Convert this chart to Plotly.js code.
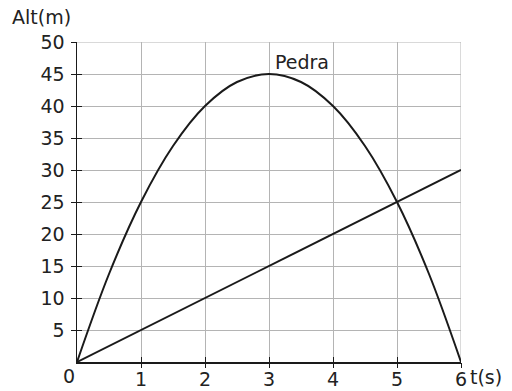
<!DOCTYPE html>
<html><head><meta charset="utf-8">
<script src="https://cdn.plot.ly/plotly-3.0.1.min.js"></script>
<style>html,body{margin:0;padding:0;background:#fff}#c{width:512px;height:391px}</style>
</head><body><div id="c"></div>
<script>
// Data
var tStone = [0, 0.5, 1, 1.5, 2, 2.5, 3, 3.5, 4, 4.5, 5, 5.5, 6];
var hStone = [0, 13.75, 25, 33.75, 40, 43.75, 45, 43.75, 40, 33.75, 25, 13.75, 0];
var tLine = [0, 6];
var hLine = [0, 30];
var xTicks = [1, 2, 3, 4, 5, 6];
var yTicks = [5, 10, 15, 20, 25, 30, 35, 40, 45, 50];
var stoneLabel = "Pedra";
var yTitle = "Alt(m)";
var xTitle = "t(s)";
var originLabel = "0";

var font = {family: "DejaVu Sans, sans-serif", size: 19, color: "#222"};

var traces = [
  {x: tStone, y: hStone, mode: "lines", line: {color: "#1a1a1a", width: 2, shape: "spline", smoothing: 1}, hoverinfo: "skip", xaxis: "x", yaxis: "y"},
  {x: tLine, y: hLine, mode: "lines", line: {color: "#1a1a1a", width: 2}, hoverinfo: "skip", xaxis: "x2", yaxis: "y2"}
];

var axCommon = {
  showgrid: true, gridcolor: "#b4b4b4", gridwidth: 1,
  zeroline: false, showline: false, ticklen: 5, tickwidth: 1, tickcolor: "#1a1a1a",
  tickfont: {family: font.family, size: font.size, color: font.color}, fixedrange: true
};

var layout = {
  width: 512, height: 391,
  margin: {l: 77, r: 51, t: 42, b: 29, pad: 0},
  paper_bgcolor: "#fff", plot_bgcolor: "#fff",
  showlegend: false,
  font: {family: font.family, size: font.size, color: font.color},
  xaxis: Object.assign({}, axCommon, {range: [0, 6], tickvals: xTicks, ticks: "inside", ticklabelstandoff: 0, anchor: "y", showline: true, linecolor: "#1a1a1a", linewidth: 1.5}),
  yaxis: Object.assign({}, axCommon, {range: [0, 50], tickvals: yTicks, ticks: "inside", ticklabelstandoff: 7, anchor: "x", showline: true, linecolor: "#1a1a1a", linewidth: 1.5}),
  xaxis2: Object.assign({}, axCommon, {range: [0, 6], tickvals: xTicks, ticks: "outside", overlaying: "x", anchor: "y2", side: "bottom", showticklabels: false, showgrid: false}),
  yaxis2: Object.assign({}, axCommon, {range: [0, 50], tickvals: yTicks, ticks: "outside", overlaying: "y", anchor: "x2", side: "left", showticklabels: false, showgrid: false}),
  shapes: [
    {type: "line", xref: "x", yref: "paper", x0: 6, x1: 6, y0: 0, y1: 1, line: {color: "#b4b4b4", width: 1}, layer: "below"},
    {type: "line", xref: "paper", yref: "y", x0: 0, x1: 1, y0: 50, y1: 50, line: {color: "#b4b4b4", width: 1}, layer: "below"}
  ],
  annotations: [
    {text: stoneLabel, x: 3.52, y: 46.9, xref: "x", yref: "y", showarrow: false, font: font},
    {text: yTitle, xref: "paper", yref: "paper", x: 0, y: 1, xanchor: "left", yanchor: "bottom", xshift: -67, yshift: 12, showarrow: false, font: font},
    {text: xTitle, xref: "x", yref: "y", x: 6, y: 0, xanchor: "left", yanchor: "top", xshift: 7, yshift: -2, showarrow: false, font: font},
    {text: originLabel, xref: "x", yref: "y", x: 0, y: 0, xanchor: "right", yanchor: "top", xshift: 0, yshift: -1, showarrow: false, font: font}
  ]
};

Plotly.newPlot("c", traces, layout, {displayModeBar: false, staticPlot: true});
</script></body></html>
